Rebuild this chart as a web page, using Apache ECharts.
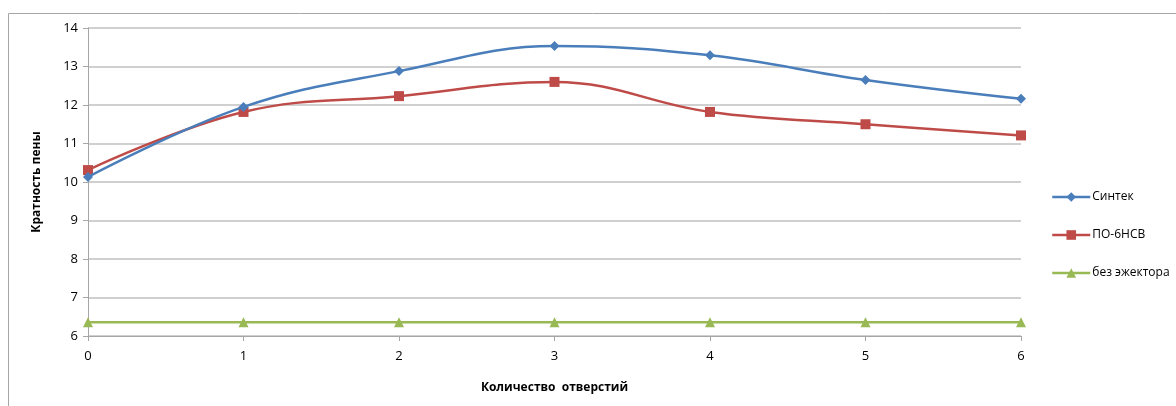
<!DOCTYPE html>
<html>
<head>
<meta charset="utf-8">
<script src="https://cdn.jsdelivr.net/npm/echarts@6/dist/echarts.min.js"></script>
<style>
  html, body { margin: 0; padding: 0; background: #fff; }
  #chart { width: 1176px; height: 406px; }
</style>
</head>
<body>
<div id="chart"></div>
<script>
// Foam expansion ratio vs. number of ejector holes
const holes = ['0', '1', '2', '3', '4', '5', '6'];
const sintek = [10.13, 11.95, 12.88, 13.53, 13.29, 12.65, 12.16];
const po6nsv = [10.31, 11.82, 12.23, 12.60, 11.82, 11.50, 11.21];
const noEjector = [6.36, 6.36, 6.36, 6.36, 6.36, 6.36, 6.36];

const seriesNames = ['Синтек', 'ПО-6НСВ', 'без эжектора'];
const colors = ['#4a7ebb', '#be4b48', '#98b954'];
const font = '"Open Sans", "Noto Sans", sans-serif';

const chart = echarts.init(document.getElementById('chart'), null, { renderer: 'canvas' });

chart.setOption({
  animation: false,
  backgroundColor: '#ffffff',
  textStyle: { fontFamily: font },
  graphic: [{
    type: 'rect',
    shape: { x: 8.5, y: 13.5, width: 1200, height: 500 },
    style: { fill: 'none', stroke: '#a6a6a6', lineWidth: 1 },
    silent: true
  }],
  grid: { left: 88, right: 155, top: 28, bottom: 70, containLabel: false },
  legend: {
    orient: 'vertical',
    left: 1046,
    top: 186,
    itemGap: 26,
    itemWidth: 38,
    itemHeight: 12,
    lineStyle: { width: 2.5 },
    textStyle: { fontFamily: font, fontSize: 12, color: '#000', padding: [0, 0, 0, -3] },
    data: seriesNames
  },
  xAxis: {
    type: 'category',
    data: holes,
    boundaryGap: false,
    name: 'Количество  отверстий',
    nameLocation: 'middle',
    nameGap: 46,
    nameTextStyle: { fontFamily: font, fontSize: 12, fontWeight: 'bold', color: '#000' },
    axisLine: { lineStyle: { color: '#a6a6a6', width: 1 } },
    axisTick: { show: true, alignWithLabel: true, length: 5, lineStyle: { color: '#a6a6a6' } },
    axisLabel: { fontFamily: font, fontSize: 13, color: '#000', margin: 14 },
    splitLine: { show: false }
  },
  yAxis: {
    type: 'value',
    min: 6,
    max: 14,
    interval: 1,
    name: 'Кратность пены',
    nameLocation: 'middle',
    nameGap: 45,
    nameRotate: 90,
    nameTextStyle: { fontFamily: font, fontSize: 12, fontWeight: 'bold', color: '#000' },
    axisLine: { show: true, lineStyle: { color: '#a6a6a6', width: 1 } },
    axisTick: { show: true, length: 5, inside: false, lineStyle: { color: '#a6a6a6' } },
    axisLabel: { fontFamily: font, fontSize: 13, color: '#000', margin: 10 },
    splitLine: { show: true, lineStyle: { color: '#c0c0c0', width: 1.5 } }
  },
  series: [
    {
      name: seriesNames[0],
      type: 'line',
      data: sintek,
      smooth: 0.4,
      symbol: 'diamond',
      symbolSize: 10,
      color: colors[0],
      lineStyle: { width: 2.5, color: colors[0] },
      itemStyle: { color: colors[0] },
      z: 4
    },
    {
      name: seriesNames[1],
      type: 'line',
      data: po6nsv,
      smooth: 0.4,
      symbol: 'rect',
      symbolSize: 10,
      color: colors[1],
      lineStyle: { width: 2.5, color: colors[1] },
      itemStyle: { color: colors[1] },
      z: 3
    },
    {
      name: seriesNames[2],
      type: 'line',
      data: noEjector,
      smooth: 0.4,
      symbol: 'triangle',
      symbolSize: 10,
      color: colors[2],
      lineStyle: { width: 2.5, color: colors[2] },
      itemStyle: { color: colors[2] },
      z: 2
    }
  ]
});
</script>
</body>
</html>
